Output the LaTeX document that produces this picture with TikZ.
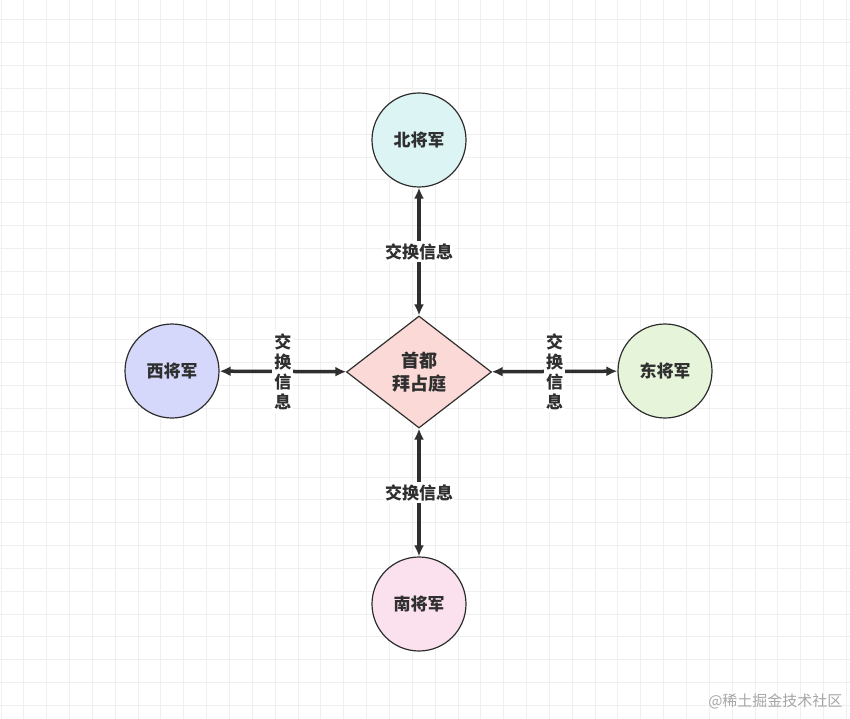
\documentclass[tikz,border=0pt]{standalone}
\usepackage{fontspec}
\setmainfont{Noto Sans CJK SC}
\usetikzlibrary{shapes.geometric,arrows.meta}
\definecolor{gridc}{HTML}{EFEFEF}
\definecolor{linec}{HTML}{2F2F2F}
\definecolor{northc}{HTML}{DDF4F4}
\definecolor{westc}{HTML}{D5D8FA}
\definecolor{eastc}{HTML}{E6F4D9}
\definecolor{southc}{HTML}{FBE0EE}
\definecolor{capc}{HTML}{FAD9D6}
\tikzset{
  general/.style={circle, draw=linec, line width=1.2pt, minimum size=94pt, font=\bfseries\fontsize{17pt}{20pt}\selectfont, text=linec},
  link/.style={{Latex[length=11pt,width=10pt]}-{Latex[length=11pt,width=10pt]}, line width=3.5pt, draw=linec},
  msg/.style={fill=white, inner sep=2pt, font=\bfseries\fontsize{17pt}{20pt}\selectfont, text=linec, align=center}
}
\begin{document}
\begin{tikzpicture}[x=1pt, y=-1pt]
\useasboundingbox (0,0) rectangle (850,719);
\fill[white] (0,0) rectangle (850,719);
\foreach \i in {0,...,37}
{
    \draw[gridc, line width=1pt] (1+22.85*\i,0)--(1+22.85*\i,719);
}
\foreach \i in {-1,...,31}
{
    \draw[gridc, line width=1pt] (0,20+22.85*\i)--(850,20+22.85*\i);
}
\node[diamond, draw=linec, fill=capc, line width=1.2pt, minimum width=145pt, minimum height=112pt, inner sep=0pt,
  font=\bfseries\fontsize{18pt}{23pt}\selectfont, text=linec, align=center] (capital) at (419,372) {首都\\拜占庭};
\node[general, fill=northc] (north) at (419,140) {北将军};
\node[general, fill=southc] (south) at (419,604) {南将军};
\node[general, fill=westc] (west) at (172,371) {西将军};
\node[general, fill=eastc] (east) at (665,371) {东将军};
\draw[link] (capital) -- node[msg]{交换信息} (north);
\draw[link] (capital) -- node[msg]{交换信息} (south);
\draw[link] (capital) -- node[msg]{交\\换\\信\\息} (west);
\draw[link] (capital) -- node[msg]{交\\换\\信\\息} (east);
\node[anchor=east, text=gray!70, font=\fontsize{15pt}{17pt}\selectfont] (mark) at (846,701) {@稀土掘金技术社区};
\end{tikzpicture}
\end{document}
